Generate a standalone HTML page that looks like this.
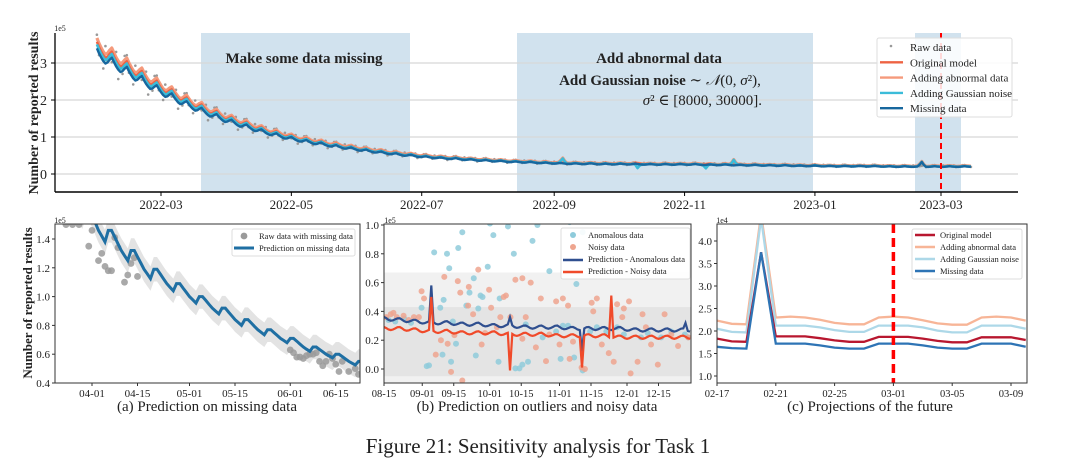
<!DOCTYPE html>
<html><head><meta charset="utf-8"><style>
body{margin:0;background:#fff}
svg{display:block;font-family:"Liberation Serif","DejaVu Serif",serif}
</style></head><body>
<svg id="fig" width="1071" height="464" viewBox="0 0 1071 464" xmlns="http://www.w3.org/2000/svg">
<defs>
<clipPath id="clipTop"><rect x="55" y="33" width="963" height="159"/></clipPath>
<clipPath id="clipA"><rect x="55" y="224" width="305" height="159"/></clipPath>
<clipPath id="clipB"><rect x="384" y="224" width="307" height="159"/></clipPath>
<clipPath id="clipC"><rect x="717" y="224" width="310" height="159"/></clipPath>
</defs>
</svg>
<script>
// ---------- TOP CHART DATA ----------
const topWeekly = [3.4,3.15,2.9,2.65,2.4,2.18,1.97,1.79,1.62,1.47,1.34,1.21,1.1,1.0,
0.92,0.85,0.78,0.72,0.66,0.61,0.56,0.52,0.48,
0.45,0.43,0.4,0.38,0.36,0.34,0.33,0.31,0.3,
0.29,0.29,0.28,0.28,0.28,0.27,0.27,0.27,0.27,
0.26,0.26,0.25,0.25,0.24,0.24,0.23,0.23,0.22,
0.22,0.22,0.22,0.21,0.21,0.21,0.21,0.21,0.21];
const topStartDay = -30; // days relative to 2022-03-01
const topSeason = [0.03,0.0,-0.025,-0.045,-0.055,-0.035,0.0];
const topSeriesNames = ["abnormal","original","gaussian","missing"];
const topSeriesScale = [1.05,1.02,1.0,0.97];
const topSpikeDays = [188,223,255,268,356];
const topSpikeSeries = ["gaussian","gaussian","gaussian","gaussian","missing"];
const topSpikeDelta = [0.12,-0.12,-0.1,0.14,0.12];
const rawNoise = [0.06,-0.04,0.02,-0.08,0.1,-0.02,0.04,-0.06,0.0,0.08,-0.1,0.03,-0.05,0.07];
const topYTicks = [0,1,2,3];
const topXTickLabels = ["2022-03","2022-05","2022-07","2022-09","2022-11","2023-01","2023-03"];
const topXTickDays = [0,61,122,184,245,306,365];

// ---------- PANEL A DATA ----------
const aPeaks = [1.75,1.62,1.46,1.32,1.19,1.09,1.0,0.92,0.84,0.77,0.71,0.65,0.6,0.55,0.5];
const aStartDay = -8; // relative to 04-01
const aShape = [0,-0.04,-0.08,-0.12,-0.15,-0.18,-0.12];
const aDotDays = [-8,-6,-4,-1,0,2,3,4,5,6,7,8,10,11,12,13,14,61,62,63,64,65,66,67,68,69,70,71,72,73,74,75,76,77,79,81,82];
const aDotVals = [1.5,1.5,1.5,1.35,1.46,1.25,1.3,1.21,1.18,1.18,1.41,1.34,1.1,1.15,1.23,1.27,1.14,0.63,0.61,0.58,0.58,0.57,0.59,0.6,0.6,0.61,0.55,0.52,0.55,0.6,0.57,0.53,0.48,0.55,0.48,0.5,0.46];
const aYTicks = [0.4,0.6,0.8,1.0,1.2,1.4];
const aXTickLabels = ["04-01","04-15","05-01","05-15","06-01","06-15"];
const aXTickDays = [0,14,30,44,61,75];

// ---------- PANEL B DATA ----------
const bBlueWeekly = [0.35,0.34,0.33,0.32,0.32,0.31,0.31,0.30,0.30,0.29,0.29,0.29,0.28,0.28,0.28,0.28,0.27,0.27,0.27,0.27];
const bRedWeekly  = [0.28,0.28,0.27,0.26,0.26,0.25,0.25,0.25,0.24,0.24,0.24,0.23,0.23,0.23,0.23,0.22,0.22,0.22,0.22,0.22];
const bSeason = [0.012,0.004,-0.006,-0.01,-0.006,0.002,0.01];
const bBlueSpikeDays = [21,56,88,134];
const bBlueSpikeVals = [0.58,0.36,0.12,0.32];
const bRedSpikeDays = [21,56,88,101];
const bRedSpikeVals = [0.5,-0.01,0.01,0.51];
const bAnomDays = [2,5,9,12,16.7,19,20,22.3,25,26.5,26,28,29,29.8,30.6,32,33,34.8,36.6,38,39.9,40.8,41.9,42.9,43.8,46.1,47.1,48.6,50.9,51.4,55.1,57.7,58.4,60.2,61.5,64,63,66,68.2,70.5,73.5,76.5,78.5,79.5,81.8,82.5,84.5,85.5,88.3,88.3,91.6,94.6,98.8,103.6,106.6,114.2,117.2,123.2,127.7,133.7,135.2];
const bAnomVals = [0.34,0.33,0.35,0.32,0.425,0.02,0.025,0.81,0.425,0.48,0.1,0.8,0.7,0.05,0.33,0.175,0.84,0.95,0.44,0.53,0.63,0.094,0.42,0.51,0.5,0.71,1.01,0.93,0.05,0.49,0.99,0.8,0.004,0.004,0.03,0.05,0.31,0.89,1.0,0.22,0.68,0.26,0.07,0.3,0.3,1.02,0.08,0.59,0.95,-0.01,0.26,0.29,0.26,0.29,0.24,0.22,0.25,0.22,0.26,0.24,0.22];
const bNoisyDays = [1,3,4.2,5.7,8.7,11,13.3,15.5,16.7,17.8,23,25.3,26.8,28.3,29.8,31.3,32.8,33.9,34.8,37.4,37.7,39.6,41.9,43.4,44.9,46.7,47.6,50.2,51.7,53.2,54.2,56.2,58.4,61.5,61.5,63,65.2,67.5,69.7,72,73.5,76.5,78,79.5,81.8,82.5,84,87.8,89.3,92.3,93,94.6,96.8,99.9,102.1,103.6,105.9,106.6,108.9,109.6,112.7,114.9,116.4,118.7,121.7,124.7,127.7,130.7,135.2];
const bNoisyVals = [0.36,0.38,0.39,0.36,0.37,0.34,0.36,0.36,0.54,0.49,0.1,0.2,0.64,0.175,-0.02,0.235,0.61,0.53,-0.08,0.44,0.57,0.38,0.69,0.17,0.25,0.55,0.425,0.29,0.36,0.5,0.51,0.36,0.62,0.63,0.21,0.36,0.6,0.15,0.49,0.055,0.24,0.47,0.17,0.49,0.44,0.07,0.19,0.01,0.0,0.46,0.4,0.49,0.17,0.11,0.05,0.45,0.36,0.42,0.47,-0.03,0.05,0.38,0.29,0.17,0.03,0.38,0.24,0.16,0.22];
const bYTicks = [0.0,0.2,0.4,0.6,0.8,1.0];
const bXTickLabels = ["08-15","09-01","09-15","10-01","10-15","11-01","11-15","12-01","12-15"];
const bXTickDays = [0,17,31,47,61,78,92,108,122];

// ---------- PANEL C DATA ----------
const cMissing  = [1.65,1.62,1.61,3.75,1.72,1.72,1.72,1.68,1.63,1.61,1.61,1.72,1.72,1.72,1.68,1.63,1.61,1.61,1.72,1.72,1.72,1.65];
const cOriginal = [1.83,1.77,1.76,3.75,1.88,1.88,1.88,1.84,1.79,1.76,1.76,1.87,1.87,1.87,1.83,1.78,1.75,1.75,1.86,1.86,1.86,1.80];
const cGaussian = [2.05,1.98,1.97,4.5,2.12,2.12,2.12,2.08,2.02,1.98,1.98,2.12,2.12,2.12,2.08,2.01,1.97,1.97,2.12,2.12,2.12,2.05];
const cAbnormal = [2.23,2.16,2.15,4.6,2.3,2.32,2.3,2.25,2.18,2.15,2.15,2.3,2.32,2.3,2.24,2.17,2.14,2.14,2.3,2.32,2.3,2.23];
const cYTicks = [1.0,1.5,2.0,2.5,3.0,3.5,4.0];
const cXTickLabels = ["02-17","02-21","02-25","03-01","03-05","03-09"];
const cXTickDays = [0,4,8,12,16,20];

const NS='http://www.w3.org/2000/svg';
const svg=document.getElementById('fig');
function mk(tag,attrs,parent){const e=document.createElementNS(NS,tag);for(const k in attrs)e.setAttribute(k,attrs[k]);(parent||svg).appendChild(e);return e;}
function txt(x,y,s,size,anchor,extra){const t=mk('text',Object.assign({x:x,y:y,'font-size':size,'text-anchor':anchor||'middle',fill:'#222'},extra||{}));t.textContent=s;return t;}
function pathD(pts){return pts.map((p,i)=>(i?'L':'M')+p[0].toFixed(1)+','+p[1].toFixed(1)).join('');}

// ===== TOP CHART =====
const xT=d=>161+2.137*d, yT=v=>174-37*v;
const gTop=mk('g',{});


const regions=[[201,410,'missing-data-region'],[517,813,'abnormal-data-region'],[915,961,'forecast-region']];
regions.forEach(r=>{const e=mk('rect',{x:r[0],y:33,width:r[1]-r[0],height:159,fill:'#d1e2ee'},gTop);

});
topYTicks.forEach(v=>{const g=mk('line',{x1:55,x2:1018,y1:yT(v),y2:yT(v),stroke:'#d8d8d8','stroke-width':1.3},gTop);


mk('line',{x1:51,x2:55,y1:yT(v),y2:yT(v),stroke:'#000'},gTop);
const t=txt(47,yT(v)+5,String(v),14,'end',{}); gTop.appendChild(t);

});
topXTickDays.forEach((d,i)=>{mk('line',{x1:xT(d),x2:xT(d),y1:192,y2:196,stroke:'#000'},gTop);
const t=txt(xT(d),209,topXTickLabels[i],13,'middle');gTop.appendChild(t);

});
function topBase(d){const idx=(d-topStartDay)/7;const i=Math.min(Math.floor(idx),topWeekly.length-2);const f=idx-i;
const lvl=topWeekly[i]*(1-f)+topWeekly[i+1]*f;const s=topSeason[((d-topStartDay)%7+7)%7];return lvl*(1+s);}
const nDays=(topWeekly.length-1)*7+4;
const gRaw=mk('g',{'clip-path':'url(#clipTop)'},gTop);


for(let k=0;k<nDays;k++){const d=topStartDay+k;const v=topBase(d)*(1+rawNoise[k%rawNoise.length]*1.2)+0.01;
mk('circle',{cx:xT(d),cy:yT(v),r:1.3,fill:'#999'},gRaw);}
const topColors={abnormal:'#f59a7c',original:'#ee6343',gaussian:'#3bbcd9',missing:'#17679e'};
const topWidth={abnormal:3.2,original:2.4,gaussian:2.6,missing:2.4};
topSeriesNames.forEach((name,si)=>{const pts=[];for(let k=0;k<nDays;k++){const d=topStartDay+k;let v=topBase(d)*topSeriesScale[si];
topSpikeDays.forEach((sd,j)=>{const s=topSpikeSeries[j];const applies=(s===name)||(s==='gaussian'&&name==='abnormal'&&j!==1&&j!==2)||(s==='missing');
if(applies&&Math.abs(d-sd)<=1){v+=topSpikeDelta[j]*(d===sd?1:0.35);}});
pts.push([xT(d),yT(v)]);}
const p=mk('path',{d:pathD(pts),fill:'none',stroke:topColors[name],'stroke-width':topWidth[name],'clip-path':'url(#clipTop)','stroke-linejoin':'round'},gTop);

});
const vl=mk('line',{x1:941,x2:941,y1:33,y2:192,stroke:'#f00','stroke-width':2,'stroke-dasharray':'6,4'},gTop);


mk('line',{x1:55,x2:55,y1:33,y2:192,stroke:'#000','stroke-width':1.3},gTop);
mk('line',{x1:55,x2:1018,y1:192,y2:192,stroke:'#000','stroke-width':1.6},gTop);
txt(60,31,'1e5',8,'middle');
const yl=txt(0,0,'Number of reported results',14,'middle',{'font-weight':'bold',transform:'translate(38,113) rotate(-90)'});


const a1=txt(304,63,'Make some data missing',15,'middle',{'font-weight':'bold'});


const a2=txt(659,63,'Add abnormal data',15,'middle',{'font-weight':'bold'});


const a3=mk('text',{x:660,y:85,'font-size':15,'text-anchor':'middle',fill:'#222'});


a3.innerHTML='<tspan font-weight="bold">Add Gaussian noise</tspan> ∼ <tspan font-style="italic">𝒩</tspan>(0, <tspan font-style="italic">σ</tspan>²),';
const a4=mk('text',{x:762,y:105,'font-size':15,'text-anchor':'end',fill:'#222'});


a4.innerHTML='<tspan font-style="italic">σ</tspan>² ∈ [8000, 30000].';
const lg=mk('g',{});


mk('rect',{x:877,y:38,width:135,height:79,fill:'#fff','fill-opacity':0.85,stroke:'#ddd',rx:2},lg);
const lgNames=['Raw data','Original model','Adding abnormal data','Adding Gaussian noise','Missing data'];
const lgCols=['#999',topColors.original,topColors.abnormal,topColors.gaussian,topColors.missing];
lgNames.forEach((n,i)=>{const y=47+i*15.3;
if(i===0)mk('circle',{cx:891,cy:y-1,r:1.3,fill:'#999'},lg);else mk('line',{x1:880,x2:903,y1:y,y2:y,stroke:lgCols[i],'stroke-width':2.4},lg);
const t=txt(910,y+4,n,11,'start');lg.appendChild(t);

});

// ===== PANEL A =====
const xA=d=>92+3.25*d, yA=v=>383-144*(v-0.4);
const gA=mk('g',{});


const aPts=[];
for(let k=0;k<(aPeaks.length-1)*7;k++){const w=Math.floor(k/7);const drop=aPeaks[w]-aPeaks[w+1];const v=aPeaks[w]+aShape[k%7]*(drop/0.12);aPts.push([aStartDay+k,v]);}
const band=aPts.map(p=>[xA(p[0]),yA(p[1]+0.085)]).concat(aPts.slice().reverse().map(p=>[xA(p[0]),yA(p[1]-0.085)]));
const bA=mk('path',{d:pathD(band)+'Z',fill:'#e3e3e3','clip-path':'url(#clipA)'},gA);


aDotDays.forEach((d,i)=>{const c=mk('circle',{cx:xA(d),cy:yA(aDotVals[i]),r:3.4,fill:'#9a9a9a','fill-opacity':0.85,'clip-path':'url(#clipA)'},gA);

});
const lA=mk('path',{d:pathD(aPts.map(p=>[xA(p[0]),yA(p[1])])),fill:'none',stroke:'#1f6fa3','stroke-width':3,'clip-path':'url(#clipA)'},gA);


mk('rect',{x:55,y:224,width:305,height:159,fill:'none',stroke:'#333','stroke-width':1},gA);
aYTicks.forEach(v=>{mk('line',{x1:52,x2:55,y1:yA(v),y2:yA(v),stroke:'#333'},gA);const t=txt(50,yA(v)+4,v.toFixed(1),11,'end');gA.appendChild(t);

});
aXTickDays.forEach((d,i)=>{mk('line',{x1:xA(d),x2:xA(d),y1:383,y2:386,stroke:'#333'},gA);const t=txt(xA(d),397,aXTickLabels[i],11);gA.appendChild(t);

});
txt(60,223,'1e5',8);
const ya=txt(0,0,'Number of reported results',13,'middle',{'font-weight':'bold',transform:'translate(32,303) rotate(-90)'});


const lgA=mk('g',{});


mk('rect',{x:232,y:229,width:123,height:27,fill:'#fff',stroke:'#ddd',rx:2},lgA);
mk('circle',{cx:244,cy:236,r:3.4,fill:'#9a9a9a'},lgA);
mk('line',{x1:234,x2:254,y1:248,y2:248,stroke:'#1f6fa3','stroke-width':3},lgA);
lgA.appendChild(txt(259,239,'Raw data with missing data',8.5,'start'));
lgA.appendChild(txt(259,251,'Prediction on missing data',8.5,'start'));
const capA=txt(207,411,'(a) Prediction on missing data',15);



// ===== PANEL B =====
const xB=d=>384+2.25*d, yB=v=>369-144*v;
const gB=mk('g',{});


mk('rect',{x:384,y:yB(0.67),width:307,height:yB(-0.1)-yB(0.67),fill:'#f1f1f1'},gB);
mk('rect',{x:384,y:yB(0.43),width:307,height:yB(-0.05)-yB(0.43),fill:'#e4e4e4'},gB);
const nB=136;
function bLine(weekly,sDays,sVals){const pts=[];for(let d=0;d<=nB;d++){const w=Math.min(Math.floor(d/7),weekly.length-2);const f=d/7-w;let v=weekly[w]*(1-f)+weekly[w+1]*f+bSeason[d%7];
const j=sDays.findIndex(s=>Math.round(s)===d);if(j>=0)v=sVals[j];pts.push([xB(d),yB(v)]);}return pathD(pts);}
bAnomDays.forEach((d,i)=>{const c=mk('circle',{cx:xB(d),cy:yB(bAnomVals[i]),r:3,fill:'#8fcbdb','fill-opacity':0.85,'clip-path':'url(#clipB)'},gB);

});
bNoisyDays.forEach((d,i)=>{const c=mk('circle',{cx:xB(d),cy:yB(bNoisyVals[i]),r:3,fill:'#eea58f','fill-opacity':0.85,'clip-path':'url(#clipB)'},gB);

});
const lb1=mk('path',{d:bLine(bBlueWeekly,bBlueSpikeDays,bBlueSpikeVals),fill:'none',stroke:'#2f4f8f','stroke-width':2.2,'clip-path':'url(#clipB)'},gB);


const lb2=mk('path',{d:bLine(bRedWeekly,bRedSpikeDays,bRedSpikeVals),fill:'none',stroke:'#f04a2a','stroke-width':2.2,'clip-path':'url(#clipB)'},gB);


mk('rect',{x:384,y:224,width:307,height:159,fill:'none',stroke:'#333','stroke-width':1},gB);
bYTicks.forEach(v=>{mk('line',{x1:381,x2:384,y1:yB(v),y2:yB(v),stroke:'#333'},gB);const t=txt(379,yB(v)+4,v.toFixed(1),11,'end');gB.appendChild(t);

});
bXTickDays.forEach((d,i)=>{mk('line',{x1:xB(d),x2:xB(d),y1:383,y2:386,stroke:'#333'},gB);const t=txt(xB(d),397,bXTickLabels[i],10.5);gB.appendChild(t);

});
txt(390,223,'1e5',8);
const lgB=mk('g',{});


mk('rect',{x:561,y:228,width:129,height:51,fill:'#fff','fill-opacity':0.9,stroke:'#ddd',rx:2},lgB);
mk('circle',{cx:573,cy:235,r:3,fill:'#8fcbdb'},lgB);
mk('circle',{cx:573,cy:247,r:3,fill:'#eea58f'},lgB);
mk('line',{x1:563,x2:583,y1:260,y2:260,stroke:'#2f4f8f','stroke-width':2.5},lgB);
mk('line',{x1:563,x2:583,y1:272,y2:272,stroke:'#f04a2a','stroke-width':2.5},lgB);
['Anomalous data','Noisy data','Prediction - Anomalous data','Prediction - Noisy data'].forEach((s,i)=>lgB.appendChild(txt(588,238+i*12,s,8.5,'start')));
const capB=txt(537,411,'(b) Prediction on outliers and noisy data',15);



// ===== PANEL C =====
const xC=d=>717+14.7*d, yC=v=>376-45*(v-1);
const gC=mk('g',{});


const cSeries=[[cAbnormal,'#f7b597','abnormal'],[cGaussian,'#add8e8','gaussian'],[cOriginal,'#b8172f','original'],[cMissing,'#2e74b5','missing']];
cSeries.forEach(s=>{const p=mk('path',{d:pathD(s[0].map((v,i)=>[xC(i),yC(v)])),fill:'none',stroke:s[1],'stroke-width':2.3,'clip-path':'url(#clipC)'},gC);

});
const vc=mk('line',{x1:xC(12),x2:xC(12),y1:224,y2:383,stroke:'#f00','stroke-width':3.5,'stroke-dasharray':'9,5'},gC);


mk('rect',{x:717,y:224,width:310,height:159,fill:'none',stroke:'#333','stroke-width':1},gC);
cYTicks.forEach(v=>{mk('line',{x1:714,x2:717,y1:yC(v),y2:yC(v),stroke:'#333'},gC);const t=txt(712,yC(v)+4,v.toFixed(1),11,'end');gC.appendChild(t);

});
cXTickDays.forEach((d,i)=>{mk('line',{x1:xC(d),x2:xC(d),y1:383,y2:386,stroke:'#333'},gC);const t=txt(xC(d),397,cXTickLabels[i],10.5);gC.appendChild(t);

});
txt(722,223,'1e4',8);
const lgC=mk('g',{});


mk('rect',{x:912,y:229,width:110,height:50,fill:'#fff',stroke:'#ddd',rx:2},lgC);
[['Original model','#b8172f'],['Adding abnormal data','#f7b597'],['Adding Gaussian noise','#add8e8'],['Missing data','#2e74b5']].forEach((s,i)=>{
mk('line',{x1:915,x2:935,y1:235+i*12,y2:235+i*12,stroke:s[1],'stroke-width':2.5},lgC);
lgC.appendChild(txt(940,238+i*12,s[0],8.5,'start'));});
const capC=txt(870,411,'(c) Projections of the future',15);



const fc=txt(538,453,'Figure 21: Sensitivity analysis for Task 1',21);


</script>
</body></html>
